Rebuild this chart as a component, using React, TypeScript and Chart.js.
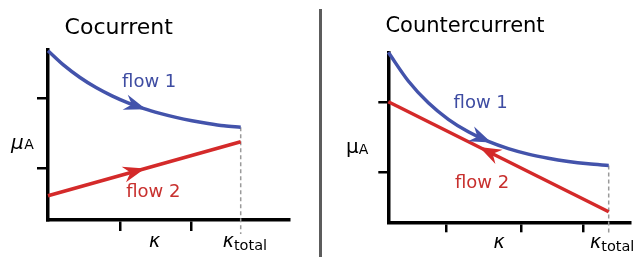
import React, { useEffect, useRef } from 'react';
import { Chart, registerables } from 'chart.js';

Chart.register(...registerables);

// ---------- data (arbitrary units) ----------
// Cocurrent panel
const coXTicks = [7.27, 14.37];
const coYTicks = [5.17, 12.17];
const coKTotal = 19.27;
const coFlow1X = [0, 1.6, 3.2, 4.8, 6.4, 8.0, 9.6, 11.2, 12.8, 14.4, 16.0, 17.6, 19.27];
const coFlow1Y = [16.93, 15.46, 14.25, 13.24, 12.41, 11.71, 11.13, 10.66, 10.26, 9.93, 9.66, 9.43, 9.27];
const coFlow2X = [0, 19.27];
const coFlow2Y = [2.43, 7.83];

// Countercurrent panel
const ctXTicks = [5.77, 13.34, 19.5];
const ctYTicks = [4.96, 12.0];
const ctKTotal = 22.04;
const ctFlow1X = [0, 2, 4, 6, 8, 10, 12, 14, 16, 18, 20, 22.04];
const ctFlow1Y = [17.0, 14.13, 11.95, 10.3, 9.05, 8.09, 7.37, 6.82, 6.41, 6.09, 5.85, 5.67];
const ctFlow2X = [0, 22.04];
const ctFlow2Y = [12.06, 1.06];

const BLUE = '#4353ab';
const RED = '#d42a2a';
const BLUE_TXT = '#3e4ca2';
const RED_TXT = '#c8302e';
const FONT = '"DejaVu Sans", Verdana, sans-serif';

const zip = (xs: number[], ys: number[]) => xs.map((x, i) => ({ x, y: ys[i] }));

function interp(pts: { x: number; y: number }[], x: number) {
  for (let i = 0; i < pts.length - 1; i++) {
    const a = pts[i], b = pts[i + 1];
    if (x >= a.x && x <= b.x) return a.y + ((x - a.x) / (b.x - a.x)) * (b.y - a.y);
  }
  return x < pts[0].x ? pts[0].y : pts[pts.length - 1].y;
}

const overlay = {
  id: 'overlay',
  afterDatasetsDraw(chart: any, _args: any, opts: any) {
    const ctx = chart.ctx as CanvasRenderingContext2D;
    const xs = chart.scales.x, ys = chart.scales.y;
    ctx.save();
    for (const a of opts.arrows || []) {
      const pts = chart.data.datasets[a.ds].data;
      const tx = xs.getPixelForValue(a.x), ty = ys.getPixelForValue(interp(pts, a.x));
      const bxv = a.x - 0.6 * a.dir;
      const bx = xs.getPixelForValue(bxv), by = ys.getPixelForValue(interp(pts, bxv));
      let dx = tx - bx, dy = ty - by;
      const len = Math.hypot(dx, dy);
      dx /= len; dy /= len;
      const L = 22, W = 8, N = 7;
      const nx = -dy, ny = dx;
      ctx.beginPath();
      ctx.moveTo(tx, ty);
      ctx.lineTo(tx - L * dx + W * nx, ty - L * dy + W * ny);
      ctx.lineTo(tx - (L - N) * dx, ty - (L - N) * dy);
      ctx.lineTo(tx - L * dx - W * nx, ty - L * dy - W * ny);
      ctx.closePath();
      ctx.fillStyle = a.color;
      ctx.fill();
    }
    ctx.restore();
  },
  afterDraw(chart: any, _args: any, opts: any) {
    const ctx = chart.ctx as CanvasRenderingContext2D;
    const xs = chart.scales.x, ys = chart.scales.y;
    ctx.save();
    ctx.textBaseline = 'alphabetic';
    for (const t of opts.texts || []) {
      const px = t.px !== undefined ? t.px : xs.getPixelForValue(t.x);
      const py = t.py !== undefined ? t.py : ys.getPixelForValue(t.y);
      ctx.fillStyle = t.color || '#000';
      ctx.font = t.font;
      if (t.sub) {
        const w1 = ctx.measureText(t.text).width;
        ctx.font = t.subFont;
        const w2 = ctx.measureText(t.sub).width;
        let start = px;
        if (t.align === 'center') start = px - (w1 + w2 + (t.gap || 0)) / 2;
        ctx.textAlign = 'left';
        ctx.font = t.font;
        ctx.fillText(t.text, start, py);
        ctx.font = t.subFont;
        ctx.fillText(t.sub, start + w1 + (t.gap || 0), py + (t.subDy || 0));
      } else {
        ctx.textAlign = t.align || 'left';
        ctx.fillText(t.text, px, py);
      }
    }
    ctx.restore();
  },
};

function scaleOpts(max: number, ticks: number[], tickLen: number) {
  return {
    type: 'linear',
    min: 0,
    max,
    border: { display: true, color: '#000', width: 3.5 },
    grid: { display: true, drawOnChartArea: false, drawTicks: true, tickLength: tickLen, lineWidth: 2.5, color: '#000' },
    ticks: { display: false },
    afterBuildTicks: (s: any) => {
      s.ticks = ticks.map((v) => ({ value: v }));
    },
  };
}

function makeConfig(p: any) {
  const f1 = zip(p.f1x, p.f1y);
  const f2 = zip(p.f2x, p.f2y);
  const dash = [
    { x: p.kTotal, y: p.f1y[p.f1y.length - 1] },
    { x: p.kTotal, y: p.dashBottom },
  ];
  return {
    type: 'line',
    data: {
      datasets: [
        { data: f1, borderColor: BLUE, borderWidth: 3.5, pointRadius: 0, tension: 0.4, cubicInterpolationMode: 'monotone', clip: false },
        { data: f2, borderColor: RED, borderWidth: 3.5, pointRadius: 0, clip: false },
        { data: dash, borderColor: '#9a9a9a', borderWidth: 1.5, borderDash: [4, 3], pointRadius: 0, clip: false },
      ],
    },
    options: {
      responsive: false,
      animation: false,
      events: [],
      layout: { padding: p.padding },
      plugins: {
        legend: { display: false },
        tooltip: { enabled: false },
        title: { display: false },
        overlay: { arrows: p.arrows, texts: p.texts },
      },
      scales: {
        x: scaleOpts(p.xMax, p.xTicks, p.tickLen),
        y: scaleOpts(p.yMax, p.yTicks, p.tickLen),
      },
    },
    plugins: [overlay],
  };
}

const leftParams = {
  f1x: coFlow1X, f1y: coFlow1Y, f2x: coFlow2X, f2y: coFlow2Y,
  kTotal: coKTotal, dashBottom: -1.4,
  xMax: 24.1, yMax: 17.0, xTicks: coXTicks, yTicks: coYTicks, tickLen: 11,
  padding: { left: 37, right: 29, top: 50, bottom: 26 },
  arrows: [
    { ds: 0, x: 9.8, dir: 1, color: BLUE },
    { ds: 1, x: 9.7, dir: 1, color: RED },
  ],
  texts: [
    { text: 'Cocurrent', px: 118.7, py: 33.5, font: `22px ${FONT}`, align: 'center' },
    { text: 'flow 1', x: 10.12, y: 13.35, font: `18px ${FONT}`, color: BLUE_TXT, align: 'center' },
    { text: 'flow 2', x: 10.53, y: 2.33, font: `18px ${FONT}`, color: RED_TXT, align: 'center' },
    { text: 'μ', sub: 'A', px: 11, py: 148.5, font: `italic 20px ${FONT}`, subFont: `14px ${FONT}`, subDy: 0, gap: 0.5 },
    { text: 'κ', x: 10.67, y: -2.67, font: `italic 19px ${FONT}`, align: 'center' },
    { text: 'κ', sub: 'total', x: 17.47, y: -2.7, font: `italic 19px ${FONT}`, subFont: `14.5px ${FONT}`, subDy: 3 },
  ],
};

const rightParams = {
  f1x: ctFlow1X, f1y: ctFlow1Y, f2x: ctFlow2X, f2y: ctFlow2Y,
  kTotal: ctKTotal, dashBottom: -1.3,
  xMax: 24.17, yMax: 17.0, xTicks: ctXTicks, yTicks: ctYTicks, tickLen: 10,
  padding: { left: 56.3, right: 6, top: 52.3, bottom: 24.7 },
  arrows: [
    { ds: 0, x: 10.3, dir: 1, color: BLUE },
    { ds: 1, x: 9.1, dir: -1, color: RED },
  ],
  texts: [
    { text: 'Countercurrent', px: 143, py: 32.3, font: `21px ${FONT}`, align: 'center' },
    { text: 'flow 1', x: 9.24, y: 11.4, font: `18px ${FONT}`, color: BLUE_TXT, align: 'center' },
    { text: 'flow 2', x: 9.37, y: 3.4, font: `18px ${FONT}`, color: RED_TXT, align: 'center' },
    { text: 'μ', sub: 'A', px: 24, py: 153, font: `20px ${FONT}`, subFont: `14px ${FONT}`, subDy: 1, gap: 0 },
    { text: 'κ', x: 11.07, y: -2.57, font: `italic 19px ${FONT}`, align: 'center' },
    { text: 'κ', sub: 'total', x: 20.17, y: -2.6, font: `italic 19px ${FONT}`, subFont: `14.5px ${FONT}`, subDy: 3 },
  ],
};

export default function App() {
  const leftRef = useRef<HTMLCanvasElement>(null);
  const rightRef = useRef<HTMLCanvasElement>(null);

  useEffect(() => {
    const c1 = new Chart(leftRef.current as HTMLCanvasElement, makeConfig(leftParams) as any);
    const c2 = new Chart(rightRef.current as HTMLCanvasElement, makeConfig(rightParams) as any);
    return () => {
      c1.destroy();
      c2.destroy();
    };
  }, []);

  return (
    <div style={{ position: 'absolute', left: 0, top: 0, width: 636, height: 257, background: '#fff', overflow: 'hidden' }}>
      <canvas
        ref={leftRef}
        width={318}
        height={257}
        style={{ position: 'absolute', left: 0, top: 0, width: 318, height: 257, display: 'block' }}
      />
      <div style={{ position: 'absolute', left: 319, top: 9, width: 2.5, height: 248, background: '#5c5c5c' }} />
      <canvas
        ref={rightRef}
        width={314}
        height={257}
        style={{ position: 'absolute', left: 322, top: 0, width: 314, height: 257, display: 'block' }}
      />
    </div>
  );
}
